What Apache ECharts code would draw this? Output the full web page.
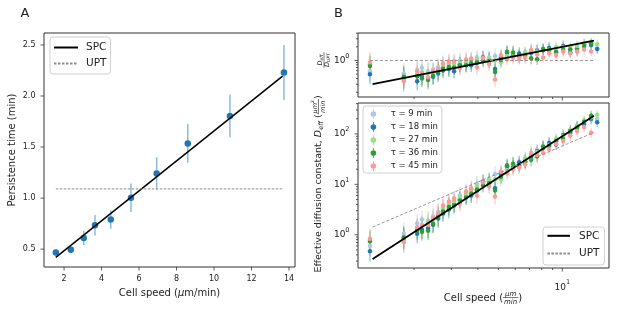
<!DOCTYPE html>
<html>
<head>
<meta charset="utf-8">
<script src="https://cdn.jsdelivr.net/npm/echarts@6/dist/echarts.min.js"></script>
<style>
  html, body { margin: 0; padding: 0; background: #fff; }
  #chart { width: 617px; height: 315px; }
</style>
</head>
<body>
<div id="chart"></div>
<script>
// ---------- panel A data ----------
const speedA = [1.56, 2.36, 3.05, 3.65, 4.49, 5.57, 6.94, 8.60, 10.85, 13.73];
const persistA = [0.468, 0.493, 0.61, 0.734, 0.79, 1.004, 1.24, 1.535, 1.805, 2.23];
const persistErrA = [0.03, 0.03, 0.07, 0.10, 0.09, 0.14, 0.16, 0.19, 0.21, 0.27];
const spcA = [[1.56, 0.42], [13.66, 2.195]];
const uptA = [[1.56, 1.09], [13.73, 1.09]];
const xTicksA = [2, 4, 6, 8, 10, 12, 14];
const yTicksA = [0.5, 1.0, 1.5, 2.0, 2.5];

// ---------- panel B data ----------
const speedB = [1.24, 1.79, 2.07, 2.18, 2.33, 2.46, 2.60, 2.74, 2.92, 3.09, 3.29, 3.52, 3.72, 3.96, 4.23, 4.52, 4.82,
  5.14, 5.49, 5.86, 6.26, 6.68, 7.13, 7.61, 8.12, 8.67, 9.35, 10.09, 10.9, 11.74, 12.67, 13.67, 14.6];

// effective diffusion constant (lower plot)
const deff9  = [0.60, 1.05, 1.70, 2.0, 1.91, 2.29, 2.82, 3.55, 4.17, 4.79, 6.03, 6.92, 7.94, 10.0, 11.5, 12.6, 15.8,
  16.6, 20.0, 24.0, 25.1, 31.6, 38.0, 47.9, 56.2, 63.1, 72.4, 87.1, 112, 126, 151, 191, 200];
const deff18 = [0.47, 0.83, 1.05, 1.26, 1.35, 1.58, 2.09, 2.63, 3.16, 3.98, 5.01, 5.75, 6.03, 7.59, 11.2, 11.5, 8.32,
  15.8, 22.9, 22.4, 27.5, 28.8, 36.3, 45.3, 52.5, 66.1, 61.7, 95.5, 105, 141, 158, 200, 170];
const deff27 = [0.79, 0.76, 1.32, 1.58, 1.78, 2.0, 2.51, 3.31, 3.80, 4.57, 5.50, 6.31, 7.59, 9.12, 10.5, 12.0, 12.6,
  12.6, 19.1, 25.1, 22.9, 33.1, 39.8, 43.7, 55.0, 60.3, 79.4, 91.2, 120, 145, 182, 214, 240];
const deff36 = [0.74, 0.89, 1.22, 1.15, 1.20, 1.66, 2.29, 2.88, 3.55, 3.80, 4.79, 5.50, 6.61, 7.94, 9.55, 10.5, 7.59,
  14.1, 24.0, 25.7, 24.0, 27.5, 30.9, 35.5, 56.2, 57.5, 72.4, 79.4, 115, 132, 174, 229, null];
const deff45 = [0.83, 0.71, 1.41, 1.51, 1.58, 2.14, 2.63, 3.80, 4.57, 5.25, 4.17, 7.24, 8.32, 6.03, 11.0, 9.12, 5.75,
  17.8, 16.6, 20.0, 21.9, 25.1, 41.7, 38.0, 41.7, 50.1, 63.1, 72.4, 93.3, 115, 138, 105, null];
// half-width of the error bars, in decades
const deffErr = [0.2, 0.22, 0.19, 0.18, 0.19, 0.17, 0.18, 0.16, 0.17, 0.16, 0.16, 0.15, 0.15, 0.16, 0.14, 0.15, 0.16,
  0.14, 0.13, 0.14, 0.13, 0.13, 0.13, 0.12, 0.12, 0.12, 0.11, 0.11, 0.11, 0.11, 0.10, 0.10, 0.09];

// D_eff / D_UPT (upper plot)
const ratio9  = [0.58, 0.51, 0.62, 0.69, 0.58, 0.63, 0.71, 0.81, 0.85, 0.88, 0.99, 1.0, 1.05, 1.17, 1.19, 1.16, 1.26,
  1.21, 1.30, 1.39, 1.29, 1.45, 1.55, 1.73, 1.80, 1.81, 1.81, 1.90, 1.82, 2.0, 2.0, 2.19, 1.86];
const ratio18 = [0.50, 0.41, 0.35, 0.44, 0.41, 0.44, 0.52, 0.60, 0.65, 0.58, 0.82, 0.83, 0.79, 0.89, 1.16, 1.06, 0.65,
  1.16, 1.49, 1.30, 1.42, 1.32, 1.48, 1.64, 1.68, 1.89, 1.54, 2.08, 1.51, 1.82, 2.29, 2.19, 1.78];
const ratio27 = [0.83, 0.37, 0.50, 0.55, 0.54, 0.55, 0.63, 0.76, 0.78, 0.84, 0.90, 0.91, 1.0, 1.07, 1.08, 1.11, 1.0,
  0.92, 1.24, 1.46, 1.18, 1.52, 1.62, 1.58, 1.76, 1.73, 1.98, 1.99, 2.0, 2.09, 2.40, 2.51, 2.29];
const ratio36 = [0.76, 0.44, 0.45, 0.40, 0.37, 0.46, 0.58, 0.66, 0.72, 0.70, 0.79, 0.79, 0.87, 0.93, 0.99, 0.97, 0.56,
  1.03, 1.56, 1.49, 1.24, 1.26, 1.12, 1.07, 1.80, 1.65, 1.50, 1.73, 1.74, 1.70, 2.09, 2.40, null];
const ratio45 = [0.91, 0.35, 0.58, 0.52, 0.43, 0.59, 0.66, 0.87, 0.93, 0.96, 0.68, 1.05, 1.10, 0.71, 1.14, 0.84, 0.38,
  1.30, 1.08, 1.16, 1.13, 1.15, 1.70, 1.38, 1.17, 1.44, 1.32, 1.58, 1.45, 1.58, 1.74, 1.58, null];
const ratioErr = [0.22, 0.24, 0.2, 0.19, 0.2, 0.18, 0.19, 0.17, 0.18, 0.16, 0.17, 0.16, 0.15, 0.16, 0.15, 0.16, 0.17,
  0.15, 0.14, 0.15, 0.14, 0.13, 0.14, 0.13, 0.12, 0.13, 0.12, 0.12, 0.11, 0.12, 0.11, 0.10, 0.10];

const spcTop = [[1.276, 0.30], [14.1, 2.75]];
const uptTop = [[1.24, 1.0], [13.97, 1.0]];
const spcBot = [[1.276, 0.33], [14.1, 230]];
const uptBot = [[1.276, 1.42], [14.1, 107]];

const tauNames = ['τ = 9 min', 'τ = 18 min', 'τ = 27 min', 'τ = 36 min', 'τ = 45 min'];
const tauColors = ['#aec7e8', '#1f77b4', '#98df8a', '#2ca02c', '#ff9896'];
const deffSeries = [deff9, deff18, deff27, deff36, deff45];
const ratioSeries = [ratio9, ratio18, ratio27, ratio36, ratio45];

const xMajorB = [10];
const xMinorB = [2, 3, 4, 5, 6, 7, 8, 9];
const yMajorTop = [1];
const yMinorTop = [0.2, 0.3, 0.4, 0.5, 0.6, 0.7, 0.8, 0.9, 2, 3, 4];
const yMajorBot = [1, 10, 100];
const yMinorBot = [0.3, 0.4, 0.5, 0.6, 0.7, 0.8, 0.9, 2, 3, 4, 5, 6, 7, 8, 9, 20, 30, 40, 50, 60, 70, 80, 90, 200, 300, 400];

const FONT = '"DejaVu Sans", sans-serif';
const TXT = '#222';

// ---------- helpers ----------
const hidden = { axisLine: { show: false }, axisTick: { show: false }, axisLabel: { show: false }, splitLine: { show: false } };

function errBars(gi, rows, color, width, opacity) {
  return {
    type: 'custom', xAxisIndex: gi, yAxisIndex: gi, silent: true, clip: true,
    data: rows,
    renderItem(params, api) {
      const a = api.coord([api.value(0), api.value(2)]);
      const b = api.coord([api.value(0), api.value(3)]);
      return { type: 'line', shape: { x1: a[0], y1: a[1], x2: b[0], y2: b[1] },
        style: { stroke: color, lineWidth: width, opacity: opacity } };
    }
  };
}

const supRich = {
  b: { fontSize: 9, lineHeight: 16, fontFamily: FONT, color: TXT },
  s: { fontSize: 6.5, lineHeight: 7, verticalAlign: 'top', fontFamily: FONT, color: TXT }
};
const pow10 = v => '{b|10}{s|' + Math.round(Math.log10(v)) + '}';

function ticks(gi, axis, values, ref, len, fmt, fontSize, labelOff) {
  return {
    type: 'custom', xAxisIndex: gi, yAxisIndex: gi, silent: true, clip: false, z: 6,
    data: values.map(v => axis === 'x' ? [v, ref] : [ref, v]),
    renderItem(params, api) {
      const cs = params.coordSys;
      const p = api.coord([api.value(0), api.value(1)]);
      const kids = [];
      if (axis === 'x') {
        const y0 = cs.y + cs.height;
        kids.push({ type: 'line', shape: { x1: p[0], y1: y0, x2: p[0], y2: y0 + len }, style: { stroke: '#333', lineWidth: 0.8 } });
        if (fmt) kids.push({ type: 'text', style: { text: fmt(api.value(0)), x: p[0], y: y0 + labelOff,
          align: 'center', verticalAlign: 'middle', fontSize: fontSize, fontFamily: FONT, fill: TXT, rich: supRich } });
      } else {
        const x0 = cs.x;
        kids.push({ type: 'line', shape: { x1: x0 - len, y1: p[1], x2: x0, y2: p[1] }, style: { stroke: '#333', lineWidth: 0.8 } });
        if (fmt) kids.push({ type: 'text', style: { text: fmt(api.value(1)), x: x0 - labelOff, y: p[1],
          align: 'right', verticalAlign: 'middle', fontSize: fontSize, fontFamily: FONT, fill: TXT, rich: supRich } });
      }
      return { type: 'group', children: kids };
    }
  };
}

// text measuring for the math-like axis titles
const mctx = document.createElement('canvas').getContext('2d');
function textWidth(t, size, italic) {
  mctx.font = (italic ? 'italic ' : '') + size + 'px "DejaVu Sans"';
  return mctx.measureText(t).width;
}
function partWidth(p) {
  return p.frac ? Math.max(rowWidth(p.frac[0]), rowWidth(p.frac[1])) + 2 : textWidth(p.t, p.s, p.i);
}
function rowWidth(parts) { return parts.reduce((w, p) => w + partWidth(p), 0); }
function layoutRow(parts, x0, y0, out) {
  let x = x0;
  parts.forEach(p => {
    const w = partWidth(p);
    if (p.frac) {
      const nw = rowWidth(p.frac[0]), dw = rowWidth(p.frac[1]);
      layoutRow(p.frac[0], x + (w - nw) / 2, y0 - p.gap, out);
      layoutRow(p.frac[1], x + (w - dw) / 2, y0 + p.gap, out);
      out.push({ type: 'line', shape: { x1: x, y1: y0 + p.bar, x2: x + w, y2: y0 + p.bar }, style: { stroke: TXT, lineWidth: 0.6 } });
    } else {
      out.push({ type: 'text', x: x, y: y0 + (p.dy || 0), style: { text: p.t, fontSize: p.s,
        fontStyle: p.i ? 'italic' : 'normal', fontFamily: FONT, fill: TXT, align: 'left', verticalAlign: 'middle' } });
    }
    x += w;
  });
  return out;
}
function mathLabel(parts, cx, cy, rot) {
  const w = rowWidth(parts);
  return { type: 'group', x: cx, y: cy, rotation: rot || 0, silent: true, children: layoutRow(parts, -w / 2, 0, []) };
}

// ---------- series ----------
const series = [];

series.push(errBars(0, speedA.map((x, i) => [x, persistA[i], persistA[i] - persistErrA[i], persistA[i] + persistErrA[i]]),
  '#1f77b4', 1.5, 0.5));
series.push({ type: 'scatter', xAxisIndex: 0, yAxisIndex: 0, symbolSize: 6.5, itemStyle: { color: '#1f77b4', opacity: 1 },
  data: speedA.map((x, i) => [x, persistA[i]]), z: 3 });
series.push({ name: 'SPC', type: 'line', xAxisIndex: 0, yAxisIndex: 0, data: spcA, symbol: 'none',
  lineStyle: { color: '#000', width: 1.5 }, itemStyle: { color: '#000' }, z: 4 });
series.push({ name: 'UPT', type: 'line', xAxisIndex: 0, yAxisIndex: 0, data: uptA, symbol: 'none',
  lineStyle: { color: '#8c8c8c', width: 1, type: [2.5, 1.5] }, itemStyle: { color: '#8c8c8c' }, z: 4 });

function addTau(gi, vals, errs) {
  vals.forEach((arr, k) => {
    const rows = [];
    speedB.forEach((x, i) => {
      const y = arr[i];
      if (y == null) return;
      const f = Math.pow(10, errs[i]);
      rows.push([x, y, y / f, y * f]);
    });
    series.push(errBars(gi, rows, tauColors[k], 1.1, 0.55));
    series.push({ name: tauNames[k], type: 'scatter', xAxisIndex: gi, yAxisIndex: gi, symbolSize: 4.5,
      itemStyle: { color: tauColors[k], opacity: 1 }, data: rows.map(r => [r[0], r[1]]) });
  });
}
addTau(1, ratioSeries, ratioErr);
addTau(2, deffSeries, deffErr);

[[1, spcTop, uptTop], [2, spcBot, uptBot]].forEach(([gi, spc, upt]) => {
  series.push({ name: 'SPC', type: 'line', xAxisIndex: gi, yAxisIndex: gi, data: spc, symbol: 'none',
    lineStyle: { color: '#000', width: 1.8 }, itemStyle: { color: '#000' }, z: 4 });
  series.push({ name: 'UPT', type: 'line', xAxisIndex: gi, yAxisIndex: gi, data: upt, symbol: 'none',
    lineStyle: { color: '#8c8c8c', width: 0.9, type: [3, 2] }, itemStyle: { color: '#8c8c8c' }, z: 4 });
});

// ticks and tick labels
series.push(ticks(0, 'x', xTicksA, 1, 3.5, v => String(v), 8, 12));
series.push(ticks(0, 'y', yTicksA, 2, 3.5, v => v.toFixed(1), 8, 8.5));
series.push(ticks(1, 'x', xMajorB, 1, 3.5, null));
series.push(ticks(1, 'x', xMinorB, 1, 2, null));
series.push(ticks(1, 'y', yMajorTop, 2, 3.5, pow10, 9, 8.5));
series.push(ticks(1, 'y', yMinorTop, 2, 2, null));
series.push(ticks(2, 'x', xMajorB, 1, 3.5, pow10, 9, 19.3));
series.push(ticks(2, 'x', xMinorB, 1, 2, null));
series.push(ticks(2, 'y', yMajorBot, 2, 3.5, pow10, 9, 8.5));
series.push(ticks(2, 'y', yMinorBot, 2, 2, null));

const legendBox = { backgroundColor: 'rgba(255,255,255,0.85)', borderColor: '#d0d0d0', borderWidth: 1, borderRadius: 3 };
const TAU_ICON = 'path://M2.6,0H3.4V10H2.6Z M3,2.2A2.8,2.8,0,1,1,2.99,2.2Z';
const lineLegendText = pad => ({ fontSize: 10.5, fontFamily: FONT, color: TXT, lineHeight: 10, padding: [0, 0, 0, pad] });

const chart = echarts.init(document.getElementById('chart'), null, { renderer: 'canvas' });
chart.setOption({
  animation: false,
  backgroundColor: '#fff',
  grid: [
    { left: 44, top: 33, width: 251, height: 234 },
    { left: 358, top: 33, width: 251, height: 64 },
    { left: 358, top: 103, width: 251, height: 165 }
  ].map(g => Object.assign(g, { show: true, borderColor: '#333', borderWidth: 1, backgroundColor: 'transparent', outerBoundsMode: 'none' })),
  xAxis: [
    Object.assign({ gridIndex: 0, type: 'value', min: 0.93, max: 14.32 }, hidden),
    Object.assign({ gridIndex: 1, type: 'log', logBase: 10, min: 1.089, max: 16.6 }, hidden),
    Object.assign({ gridIndex: 2, type: 'log', logBase: 10, min: 1.089, max: 16.6 }, hidden)
  ],
  yAxis: [
    Object.assign({ gridIndex: 0, type: 'value', min: 0.325, max: 2.617 }, hidden),
    Object.assign({ gridIndex: 1, type: 'log', logBase: 10, min: 0.157, max: 4.03 }, hidden),
    Object.assign({ gridIndex: 2, type: 'log', logBase: 10, min: 0.219, max: 411 }, hidden)
  ],
  legend: [
    Object.assign({ left: 50, top: 37, orient: 'vertical', data: ['SPC', 'UPT'], itemWidth: 24, itemHeight: 10, itemGap: 5,
      padding: [5, 4, 5, 3], itemStyle: { opacity: 0 }, textStyle: lineLegendText(3) }, legendBox),
    Object.assign({ left: 543, top: 227, orient: 'vertical', data: ['SPC', 'UPT'], itemWidth: 22.6, itemHeight: 10, itemGap: 6.7,
      padding: [3.3, 5, 6, 3.4], itemStyle: { opacity: 0 }, textStyle: lineLegendText(4) }, legendBox),
    Object.assign({ left: 363, top: 106, orient: 'vertical', data: tauNames.map(n => ({ name: n, icon: TAU_ICON })),
      itemWidth: 5.6, itemHeight: 10, itemGap: 3, padding: [3, 4, 2, 7.6],
      textStyle: { fontSize: 8.5, fontFamily: FONT, color: TXT, lineHeight: 10, padding: [0, 0, 0, 9.5] } }, legendBox)
  ],
  graphic: [
    { type: 'text', x: 25, y: 14, style: { text: 'A', fontSize: 13, fontFamily: FONT, fill: TXT, align: 'center', verticalAlign: 'middle' } },
    { type: 'text', x: 338.5, y: 14, style: { text: 'B', fontSize: 13, fontFamily: FONT, fill: TXT, align: 'center', verticalAlign: 'middle' } },
    mathLabel([{ t: 'Cell speed (', s: 10 }, { t: 'μ', s: 10, i: true }, { t: 'm/min)', s: 10 }], 169.5, 293),
    mathLabel([{ t: 'Persistence time (min)', s: 10 }], 12.5, 150, Math.PI / 2),
    mathLabel([{ t: 'Cell speed (', s: 10 },
      { frac: [[{ t: 'μm', s: 7, i: true }], [{ t: 'min', s: 7, i: true }]], gap: 4, bar: -0.5 },
      { t: ')', s: 10 }], 483, 298),
    mathLabel([{ t: 'Effective diffusion constant, ', s: 9.5 }, { t: 'D', s: 9.5, i: true }, { t: 'eff', s: 6.5, i: true, dy: 2.5 },
      { t: ' (', s: 9.5 },
      { frac: [[{ t: 'μm', s: 6.5, i: true }, { t: '2', s: 4.5, dy: -2 }], [{ t: 'min', s: 6.5, i: true }]], gap: 4, bar: -0.5 },
      { t: ')', s: 9.5 }], 319, 184, Math.PI / 2),
    mathLabel([{ frac: [[{ t: 'D', s: 6.5, i: true }, { t: 'eff', s: 4.5, i: true, dy: 1.6 }],
      [{ t: 'D', s: 6.5, i: true }, { t: 'UPT', s: 4.5, i: true, dy: 1.6 }]], gap: 3.5, bar: 0 }], 324, 60, Math.PI / 2)
  ],
  series: series
});
</script>
</body>
</html>
